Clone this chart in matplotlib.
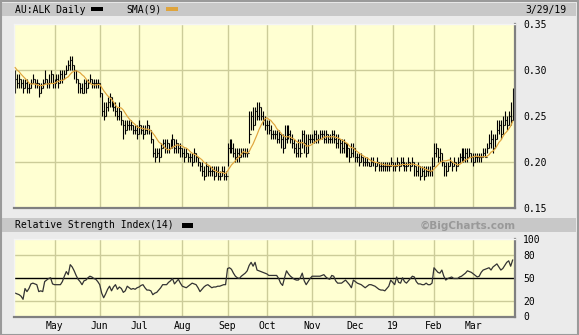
"""AU:ALK daily bar chart with SMA(9) and RSI(14) panel, BigCharts style."""

import matplotlib
matplotlib.use("Agg")
import matplotlib.pyplot as plt
from matplotlib.patches import Rectangle
import numpy as np

W, H = 579, 335

# --- data (prices in thousandths of a dollar, one entry per trading day) ---
pre_close = [310, 305, 310, 300, 305, 300, 305, 295]  # days before the window, feed the SMA

close = [
    290, 285, 290, 285, 280, 285, 280, 280, 285, 290,
    285, 285, 275, 280, 285, 290, 285, 285, 295, 285,
    285, 290, 285, 295, 290, 295, 300, 305, 310, 305,
    300, 290, 285, 280, 275, 285, 280, 285, 290, 285,
    285, 285, 285, 275, 255, 250, 260, 265, 270, 265,
    260, 255, 250, 255, 245, 240, 235, 240, 240, 240,
    235, 235, 230, 240, 235, 230, 235, 240, 235, 225,
    210, 205, 210, 205, 215, 220, 215, 220, 215, 220,
    225, 215, 220, 215, 215, 210, 205, 210, 205, 205,
    200, 210, 205, 200, 195, 190, 185, 195, 190, 190,
    190, 185, 190, 185, 185, 190, 185, 185, 215, 220,
    215, 210, 205, 210, 205, 210, 210, 210, 210, 230,
    250, 240, 255, 250, 260, 250, 245, 240, 240, 235,
    230, 230, 230, 225, 230, 225, 215, 225, 235, 230,
    225, 220, 215, 210, 215, 210, 230, 220, 210, 225,
    225, 225, 230, 225, 225, 230, 230, 225, 230, 225,
    225, 230, 225, 220, 225, 220, 215, 220, 210, 215,
    205, 210, 215, 205, 205, 200, 205, 200, 200, 200,
    195, 200, 200, 195, 200, 195, 195, 195, 195, 195,
    195, 200, 195, 195, 200, 195, 200, 200, 195, 195,
    200, 195, 200, 195, 190, 195, 185, 190, 185, 190,
    190, 190, 195, 210, 215, 205, 210, 200, 195, 190,
    195, 200, 195, 200, 195, 200, 205, 210, 205, 210,
    205, 210, 205, 200, 205, 205, 205, 205, 210, 205,
    215, 220, 225, 215, 225, 235, 240, 230, 240, 245,
    240, 250, 245, 270,
]

high = [
    300, 295, 295, 290, 290, 290, 290, 285, 290, 295,
    290, 290, 285, 285, 290, 300, 290, 295, 300, 295,
    290, 295, 295, 300, 300, 300, 305, 310, 315, 315,
    305, 300, 290, 285, 285, 290, 290, 290, 295, 290,
    290, 290, 290, 285, 275, 265, 265, 270, 275, 270,
    265, 265, 260, 265, 255, 245, 245, 245, 245, 245,
    240, 240, 240, 245, 240, 240, 240, 245, 240, 235,
    225, 215, 215, 215, 220, 225, 225, 225, 220, 225,
    230, 225, 225, 220, 220, 215, 215, 215, 210, 210,
    210, 215, 210, 205, 200, 200, 195, 200, 195, 195,
    195, 195, 195, 195, 190, 195, 195, 190, 220, 225,
    225, 220, 215, 215, 215, 215, 215, 215, 215, 255,
    255, 260, 260, 265, 265, 260, 255, 250, 245, 245,
    240, 235, 235, 235, 235, 230, 230, 240, 240, 240,
    235, 230, 225, 220, 225, 225, 235, 235, 230, 230,
    230, 230, 235, 235, 230, 235, 235, 235, 235, 230,
    230, 235, 235, 230, 230, 225, 225, 225, 220, 220,
    215, 220, 220, 215, 210, 210, 210, 205, 205, 205,
    200, 205, 205, 200, 205, 200, 200, 200, 200, 200,
    200, 205, 200, 200, 205, 200, 205, 205, 200, 200,
    205, 200, 205, 200, 195, 200, 195, 195, 195, 195,
    195, 195, 205, 220, 220, 215, 215, 210, 200, 200,
    200, 205, 200, 205, 200, 205, 210, 215, 215, 215,
    215, 215, 210, 210, 210, 210, 210, 210, 215, 215,
    220, 230, 235, 230, 230, 245, 245, 245, 250, 255,
    250, 255, 265, 280,
]

low = [
    275, 280, 280, 280, 275, 280, 275, 275, 280, 285,
    280, 280, 270, 275, 280, 285, 280, 280, 285, 280,
    280, 285, 280, 285, 285, 290, 295, 300, 300, 300,
    290, 285, 275, 275, 275, 275, 275, 280, 285, 280,
    280, 280, 280, 270, 250, 245, 250, 255, 260, 260,
    255, 250, 245, 245, 240, 225, 230, 235, 235, 235,
    230, 230, 225, 230, 230, 225, 230, 230, 230, 220,
    205, 200, 205, 200, 205, 215, 210, 210, 210, 215,
    215, 210, 210, 210, 205, 205, 200, 205, 200, 200,
    195, 200, 200, 195, 190, 185, 180, 185, 185, 185,
    185, 180, 185, 180, 180, 185, 180, 180, 195, 210,
    210, 205, 200, 200, 200, 205, 205, 205, 205, 220,
    235, 235, 240, 245, 245, 245, 240, 235, 230, 230,
    225, 225, 225, 220, 220, 215, 210, 215, 220, 225,
    220, 215, 210, 205, 205, 205, 215, 210, 205, 210,
    220, 220, 220, 220, 220, 225, 225, 220, 220, 220,
    220, 220, 220, 215, 215, 210, 210, 210, 205, 205,
    200, 205, 205, 200, 200, 195, 200, 195, 195, 195,
    195, 195, 195, 190, 195, 190, 190, 190, 190, 190,
    190, 195, 190, 190, 195, 190, 195, 195, 190, 190,
    195, 190, 195, 185, 185, 185, 180, 185, 180, 185,
    185, 185, 185, 195, 205, 200, 200, 195, 185, 185,
    190, 195, 190, 195, 190, 195, 200, 200, 200, 200,
    200, 205, 200, 195, 200, 200, 200, 200, 205, 205,
    210, 215, 215, 210, 215, 225, 230, 225, 230, 240,
    235, 240, 240, 245,
]

rsi = [
    30, 29, 28, 26, 22, 36, 32, 36, 42, 43,
    42, 41, 32, 33, 32, 45, 47, 49, 50, 42,
    41, 41, 41, 41, 45, 52, 58, 54, 67, 64,
    59, 53, 48, 45, 41, 46, 47, 50, 52, 51,
    49, 48, 45, 41, 30, 24, 29, 35, 39, 33,
    38, 41, 35, 38, 36, 31, 33, 39, 37, 35,
    36, 35, 37, 38, 40, 41, 37, 34, 34, 33,
    28, 30, 31, 34, 37, 41, 41, 41, 44, 46,
    49, 42, 45, 48, 43, 39, 38, 37, 39, 41,
    43, 42, 41, 37, 32, 35, 38, 40, 41, 39,
    37, 38, 38, 39, 39, 40, 41, 41, 62, 63,
    61, 56, 52, 50, 49, 52, 54, 56, 59, 66,
    70, 65, 70, 60, 59, 58, 57, 56, 55, 53,
    53, 53, 53, 53, 49, 43, 40, 50, 59, 55,
    52, 50, 48, 47, 47, 50, 56, 46, 41, 45,
    49, 52, 52, 52, 52, 52, 53, 54, 51, 49,
    48, 53, 52, 46, 43, 43, 43, 45, 47, 44,
    41, 37, 47, 45, 43, 42, 41, 39, 37, 39,
    41, 41, 40, 39, 37, 35, 34, 34, 33, 36,
    39, 47, 44, 41, 51, 44, 43, 50, 45, 43,
    46, 49, 52, 51, 45, 42, 42, 41, 41, 43,
    41, 41, 43, 63, 60, 57, 56, 60, 52, 47,
    49, 50, 51, 49, 49, 49, 51, 52, 54, 56,
    59, 58, 57, 55, 53, 51, 52, 57, 60, 61,
    62, 63, 60, 64, 66, 68, 64, 60, 62, 66,
    70, 72, 65, 73,
]

month_labels = ["May", "Jun", "Jul", "Aug", "Sep", "Oct", "Nov", "Dec", "19", "Feb", "Mar"]
month_idx = [20, 43, 63, 85, 108, 128, 151, 173, 192, 213, 233]
price_ticks = [0.15, 0.20, 0.25, 0.30, 0.35]
rsi_ticks = [0, 20, 50, 80, 100]

# --- derived series ---
c = np.array(close) / 1000.0
hi = np.array(high) / 1000.0
lo = np.array(low) / 1000.0
full = np.concatenate([np.array(pre_close) / 1000.0, c])
sma = np.convolve(full, np.ones(9) / 9, mode="valid")
op = np.concatenate([[full[len(pre_close) - 1]], c[:-1]])
idx = np.arange(len(c))

BG = "#ebebeb"
PLOT_BG = "#ffffd2"
GRID = "#cccc99"
BAR = "#c8c8c8"
SMA_C = "#dfa43c"
MONO = "DejaVu Sans Mono"


def px(x0, y0, x1, y1):
    return [x0 / W, 1 - y1 / H, (x1 - x0) / W, (y1 - y0) / H]


fig = plt.figure(figsize=(W / 100, H / 100), dpi=100, facecolor=BG)

# title bars and outer border
for y0, y1 in [(3, 16), (218, 232)]:
    fig.patches.append(Rectangle((2 / W, 1 - y1 / H), 574 / W, (y1 - y0) / H,
                                 transform=fig.transFigure, facecolor=BAR, edgecolor="none"))
fig.patches.append(Rectangle((0.5 / W, 0.5 / H), (W - 1.5) / W, (H - 1.5) / H,
                             transform=fig.transFigure, facecolor="none", edgecolor="#9a9a9a", lw=1.5))


def swatch(x0, y0, x1, y1, color):
    fig.patches.append(Rectangle((x0 / W, 1 - y1 / H), (x1 - x0) / W, (y1 - y0) / H,
                                 transform=fig.transFigure, facecolor=color, edgecolor="none"))


fig.text(15 / W, 1 - 10 / H, "AU:ALK Daily", family=MONO, fontsize=7, va="center")
swatch(91, 7, 103, 11, "black")
fig.text(126 / W, 1 - 10 / H, "SMA(9)", family=MONO, fontsize=7, va="center")
swatch(166, 7, 178, 11, SMA_C)
fig.text(566 / W, 1 - 10 / H, "3/29/19", family=MONO, fontsize=7, va="center", ha="right")

fig.text(15 / W, 1 - 225.5 / H, "Relative Strength Index(14)", family=MONO, fontsize=7, va="center")
swatch(182, 223, 193, 228, "black")
fig.text(516 / W, 1 - 225.5 / H, "\u00a9BigCharts.com", fontsize=7.5, fontweight="bold",
         color="#999999", va="center", ha="right")


def style_axes(ax):
    ax.set_facecolor(PLOT_BG)
    for s in ["left", "top"]:
        ax.spines[s].set_color("#f4f4f4")
        ax.spines[s].set_linewidth(1)
    for s in ["right", "bottom"]:
        ax.spines[s].set_color("#808080")
        ax.spines[s].set_linewidth(1.6)
    ax.set_xlim(-0.6, 254.2)
    ax.yaxis.tick_right()
    ax.tick_params(length=0, labelsize=7, pad=6)
    for lab in ax.get_yticklabels():
        lab.set_family(MONO)
    ax.set_axisbelow(True)
    for m in month_idx:
        ax.axvline(m, color=GRID, lw=1, zorder=0)


# --- price panel ---
ax = fig.add_axes(px(14, 23.5, 515, 208))
ax.set_ylim(0.15, 0.35)
ax.set_yticks(price_ticks)
ax.set_yticklabels([f"{t:.2f}" for t in price_ticks])
ax.set_xticks([])
style_axes(ax)
for t in price_ticks[1:-1]:
    ax.axhline(t, color=GRID, lw=1, zorder=0)
ax.vlines(idx, lo, hi, color="black", lw=0.8, zorder=2)
ax.hlines(op, idx - 0.5, idx, color="black", lw=0.8, zorder=2)
ax.hlines(c, idx, idx + 0.5, color="black", lw=0.8, zorder=2)
ax.plot(idx, sma, color=SMA_C, lw=0.85, zorder=3)

# --- RSI panel ---
ax2 = fig.add_axes(px(14, 238.5, 515, 317))
ax2.set_ylim(-1, 101)
ax2.set_yticks(rsi_ticks)
ax2.set_yticklabels([str(t) for t in rsi_ticks])
ax2.set_xticks(month_idx)
ax2.set_xticklabels(month_labels, family=MONO, fontsize=7)
style_axes(ax2)
ax2.tick_params(axis="x", pad=3)
for t in [20, 80]:
    ax2.axhline(t, color=GRID, lw=1, zorder=0)
ax2.axhline(50, color="black", lw=1, zorder=1)
ax2.plot(idx, rsi, color="#333333", lw=0.9, zorder=2)

fig.savefig("out.png", dpi=100, facecolor=BG)
